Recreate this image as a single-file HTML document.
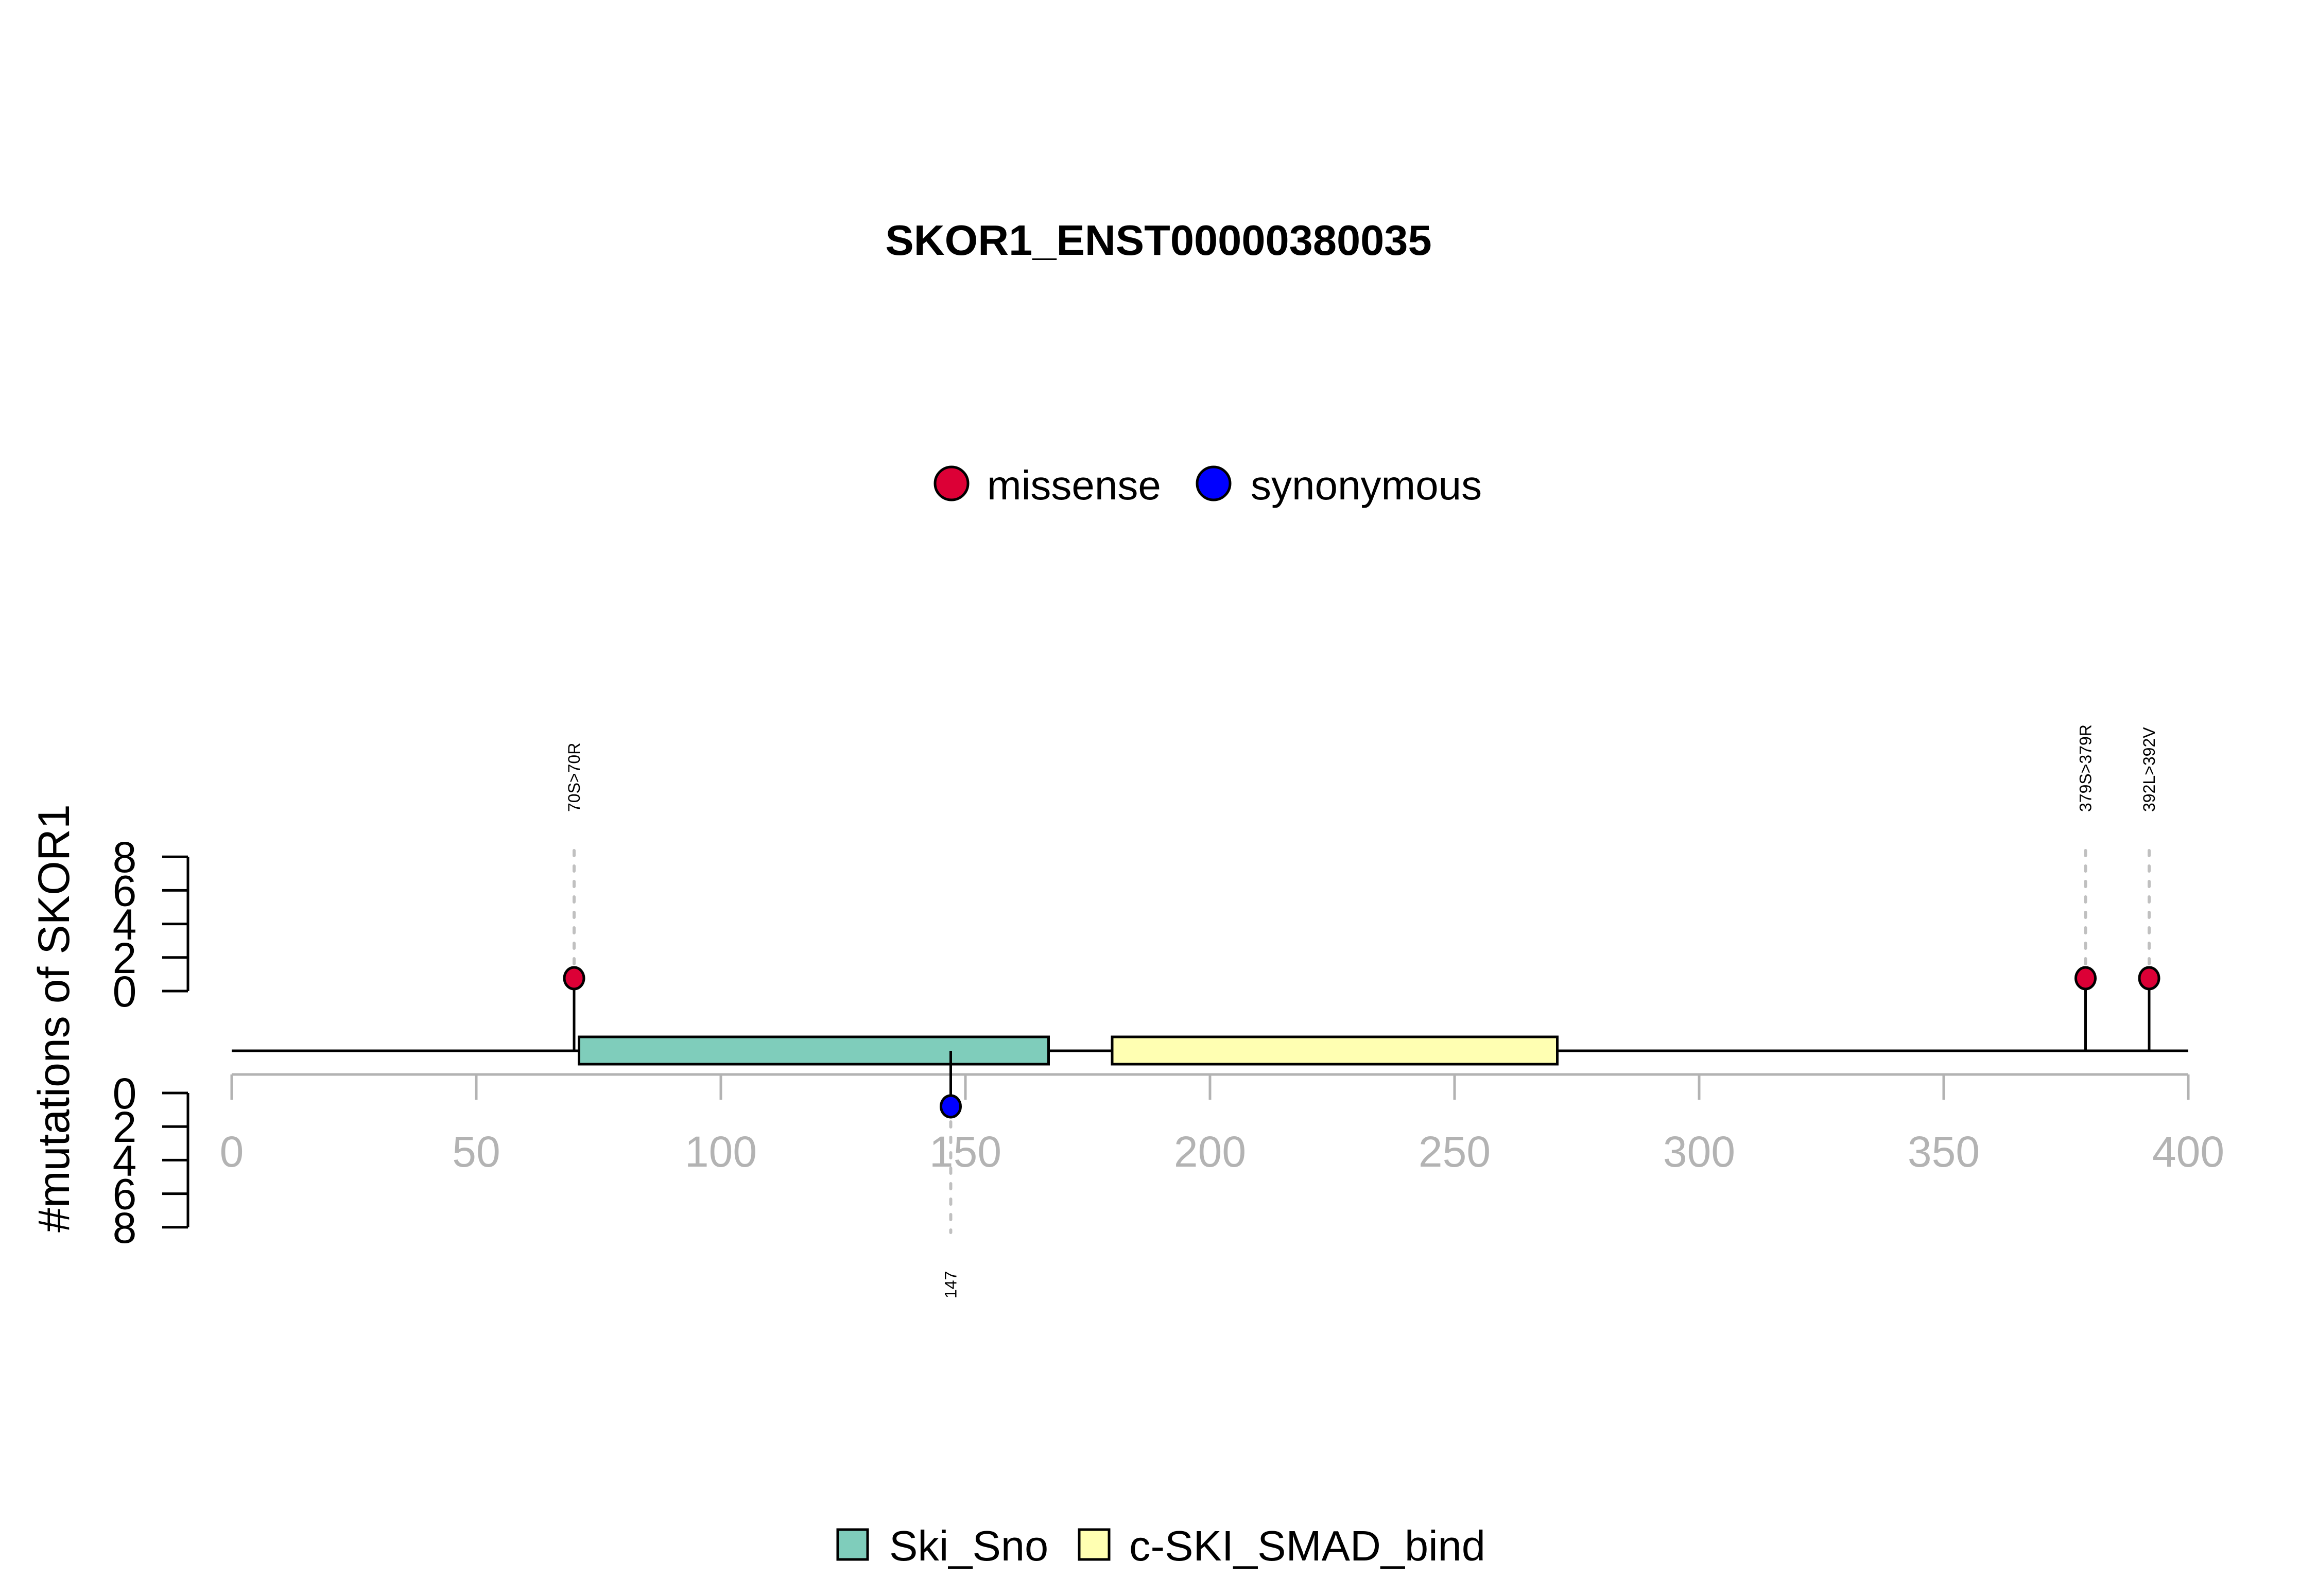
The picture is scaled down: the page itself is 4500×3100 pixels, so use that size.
<!DOCTYPE html>
<html><head><meta charset="utf-8"><style>html,body{margin:0;padding:0;background:#fff}svg{display:block}text{font-family:"Liberation Sans",Arial,sans-serif}</style></head>
<body>
<svg id="chart" width="4500" height="3100" viewBox="0 0 4500 3100" xmlns="http://www.w3.org/2000/svg">
<rect width="4500" height="3100" fill="#fff"/>
<text x="2250" y="495" text-anchor="middle" font-weight="bold" font-size="83">SKOR1_ENST00000380035</text>
<g>
<circle cx="1848" cy="939" r="32" fill="#dc0036" stroke="#000" stroke-width="5"/>
<text x="1917" y="970" font-size="80">missense</text>
<circle cx="2357" cy="939" r="32" fill="#0000ff" stroke="#000" stroke-width="5"/>
<text x="2429" y="970" font-size="80">synonymous</text>
</g>
<text transform="translate(134,1978) rotate(-90)" text-anchor="middle" font-size="86">#mutations of SKOR1</text>
<g id="plot"></g>
<g>
<rect x="1627" y="2971" width="58" height="58" fill="#7fcdbb" stroke="#000" stroke-width="5"/>
<text x="1727" y="3031" font-size="83">Ski_Sno</text>
<rect x="2096" y="2971" width="58" height="58" fill="#ffffb2" stroke="#000" stroke-width="5"/>
<text x="2193" y="3031" font-size="83">c-SKI_SMAD_bind</text>
</g>
</svg>
<script>
const xTicks = [0, 50, 100, 150, 200, 250, 300, 350, 400];
const countTicks = [0, 2, 4, 6, 8];
const domainNames = ["Ski_Sno", "c-SKI_SMAD_bind"];
const domainStarts = [71, 180];
const domainEnds = [167, 271];
const domainColors = ["#7fcdbb", "#ffffb2"];
const mutPositions = [70, 379, 392, 147];
const mutCounts = [1, 1, 1, 1];
const mutLabels = ["70S>70R", "379S>379R", "392L>392V", "147"];
const mutTypes = ["missense", "missense", "missense", "synonymous"];
const proteinLength = 400;

const NS = "http://www.w3.org/2000/svg";
const g = document.getElementById("plot");
const xScale = v => 450 + v * 9.5;
const upAxis = v => 1925 - v * 32.6;
const loAxis = v => 2123 + v * 32.6;
const upPoint = v => 1933 - v * 33;
const loPoint = v => 2116 + v * 33;
const lineY = 2041;
function mk(tag, attrs) {
  const e = document.createElementNS(NS, tag);
  for (const k in attrs) e.setAttribute(k, attrs[k]);
  g.appendChild(e);
  return e;
}
let e;
// backbone
e = mk("line", {x1: xScale(0), x2: xScale(proteinLength), y1: lineY, y2: lineY, stroke: "#000", "stroke-width": 5});


// x axis
e = mk("line", {x1: xScale(0), x2: xScale(proteinLength), y1: 2087, y2: 2087, stroke: "#b3b3b3", "stroke-width": 5});


xTicks.forEach(t => {
  const tk = mk("line", {x1: xScale(t), x2: xScale(t), y1: 2087, y2: 2136, stroke: "#b3b3b3", "stroke-width": 5});
  
  
  const lb = mk("text", {x: xScale(t), y: 2266, "text-anchor": "middle", "font-size": 84, fill: "#b3b3b3"});
  lb.textContent = t;
  
  
});
// count axes
[[upAxis, "upper"], [loAxis, "lower"]].forEach(([f, nm]) => {
  const ax = mk("line", {x1: 365, x2: 365, y1: f(0), y2: f(8), stroke: "#000", "stroke-width": 5});
  
  
  countTicks.forEach(t => {
    const tk = mk("line", {x1: 315, x2: 365, y1: f(t), y2: f(t), stroke: "#000", "stroke-width": 5});
    
    
    const lb = mk("text", {x: 242, y: f(t) + 30, "text-anchor": "middle", "font-size": 84});
    lb.textContent = t;
    
    
  });
});
// domains
domainNames.forEach((n, i) => {
  const r = mk("rect", {x: xScale(domainStarts[i]), y: 2014, width: xScale(domainEnds[i]) - xScale(domainStarts[i]), height: 53, fill: domainColors[i], stroke: "#000", "stroke-width": 5});
  
  
});
// mutations
mutPositions.forEach((p, i) => {
  const x = xScale(p);
  const up = mutTypes[i] === "missense";
  const py = up ? upPoint(mutCounts[i]) : loPoint(mutCounts[i]);
  const d = mk("line", {x1: x, x2: x, y1: up ? 1652 : py, y2: up ? py : 2394, stroke: "#c0c0c0", "stroke-width": 6, "stroke-dasharray": "10 20", "stroke-linecap": "round"});
  
  
  const s = mk("line", {x1: x, x2: x, y1: lineY, y2: py, stroke: "#000", "stroke-width": 5});
  
  
  const c = mk("ellipse", {cx: x, cy: py, rx: 19, ry: 21, fill: up ? "#dc0036" : "#0000ff", stroke: "#000", "stroke-width": 5});
  
  
  const ly = up ? 1577 : 2522;
  const t = mk("text", {transform: "translate(" + (x + 11) + "," + ly + ") rotate(-90)", "font-size": 32});
  t.textContent = mutLabels[i];
  
  
});
</script>
</body></html>
